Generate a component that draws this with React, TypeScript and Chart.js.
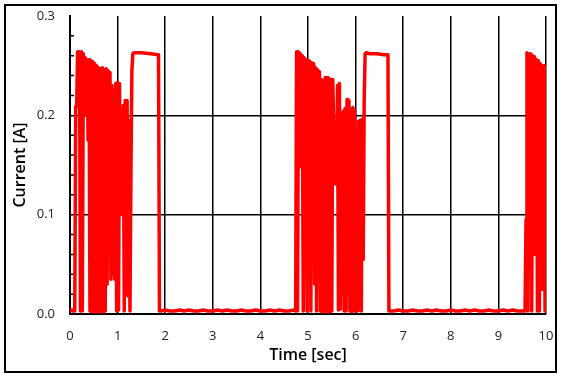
import React, { useEffect, useRef } from "react";
import { Chart, registerables } from "chart.js";

Chart.register(...registerables);

// ---- Data (time in sec, current in A) ----
const sampleStep = 0.02; // sampling interval inside bursts
const restStep = 0.1; // sampling interval in idle segments

const leadStart = 0.0;
const leadCurrent = [0.003, 0.003, 0.004, 0.003, 0.003];

const burst1Start = 0.1;
const burst1Current = [
  0.003, 0.209, 0.209, 0.264, 0.264, 0.264, 0.003, 0.264, 0.003, 0.262,
  0.22, 0.258, 0.2, 0.256, 0.175, 0.256, 0.003, 0.255, 0.002, 0.254,
  0.003, 0.252, 0.002, 0.25, 0.003, 0.248, 0.002, 0.247, 0.003, 0.248,
  0.002, 0.246, 0.003, 0.247, 0.03, 0.245, 0.08, 0.243, 0.035, 0.23,
  0.04, 0.225, 0.035, 0.232, 0.003, 0.233, 0.004, 0.232, 0.1, 0.16,
  0.11, 0.21, 0.003, 0.215, 0.02, 0.215, 0.018, 0.195, 0.003, 0.14, 0.245,
];

const plateau1Time = [1.32, 1.34, 1.5, 1.7, 1.84, 1.86, 1.88];
const plateau1Current = [0.262, 0.263, 0.263, 0.262, 0.261, 0.261, 0.003];

const rest1Start = 1.9;
const rest1Current = [
  0.003, 0.004, 0.003, 0.003, 0.004, 0.003, 0.004, 0.003, 0.003, 0.004,
  0.003, 0.003, 0.004, 0.003, 0.004, 0.003, 0.003, 0.004, 0.003, 0.003,
  0.004, 0.003, 0.003, 0.004, 0.003, 0.004, 0.003, 0.003, 0.004,
];

const burst2Start = 4.74;
const burst2Current = [
  0.003, 0.264, 0.003, 0.264, 0.148, 0.262, 0.19, 0.26, 0.003, 0.258,
  0.12, 0.256, 0.003, 0.255, 0.06, 0.254, 0.003, 0.253, 0.1, 0.252,
  0.03, 0.248, 0.003, 0.246, 0.06, 0.244, 0.003, 0.236, 0.002, 0.234,
  0.003, 0.238, 0.002, 0.238, 0.003, 0.237, 0.002, 0.236, 0.003, 0.236,
  0.19, 0.131, 0.165, 0.131, 0.23, 0.004, 0.232, 0.005, 0.2, 0.02,
  0.204, 0.003, 0.207, 0.003, 0.216, 0.02, 0.215, 0.003, 0.205, 0.002,
  0.208, 0.003, 0.205, 0.004, 0.185, 0.003, 0.194, 0.004, 0.195, 0.003,
  0.196, 0.055, 0.215, 0.262,
];

const plateau2Time = [6.22, 6.3, 6.45, 6.6, 6.68, 6.7];
const plateau2Current = [0.263, 0.262, 0.262, 0.261, 0.261, 0.003];

const rest2Start = 6.8;
const rest2Current = [
  0.003, 0.004, 0.003, 0.003, 0.004, 0.003, 0.003, 0.004, 0.003, 0.004,
  0.003, 0.003, 0.004, 0.003, 0.003, 0.004, 0.003, 0.004, 0.003, 0.003,
  0.004, 0.003, 0.003, 0.004, 0.003, 0.004, 0.003, 0.003,
];

const burst3Start = 9.56;
const burst3Current = [
  0.003, 0.095, 0.263, 0.003, 0.262, 0.165, 0.262, 0.003, 0.26, 0.06,
  0.259, 0.06, 0.256, 0.003, 0.255, 0.003, 0.252, 0.025, 0.25, 0.025,
  0.25, 0.003, 0.25,
];

const yMinorTicks = [
  0.02, 0.04, 0.06, 0.08, 0.12, 0.14, 0.16, 0.18, 0.22, 0.24, 0.26, 0.28,
];

const xTitle = "Time [sec]";
const yTitle = "Current [A]";

type Pt = { x: number; y: number };

function sampled(start: number, step: number, values: number[]): Pt[] {
  return values.map((v, i) => ({ x: +(start + i * step).toFixed(4), y: v }));
}
function paired(times: number[], values: number[]): Pt[] {
  return times.map((t, i) => ({ x: t, y: values[i] }));
}

const points: Pt[] = [
  ...sampled(leadStart, sampleStep, leadCurrent),
  ...sampled(burst1Start, sampleStep, burst1Current),
  ...paired(plateau1Time, plateau1Current),
  ...sampled(rest1Start, restStep, rest1Current),
  ...sampled(burst2Start, sampleStep, burst2Current),
  ...paired(plateau2Time, plateau2Current),
  ...sampled(rest2Start, restStep, rest2Current),
  ...sampled(burst3Start, sampleStep, burst3Current),
];

const FONT = "'Open Sans', 'Noto Sans', sans-serif";

const framePlugin = {
  id: "framePlugin",
  beforeDraw(chart: any) {
    const ctx = chart.ctx;
    ctx.save();
    ctx.fillStyle = "#ffffff";
    ctx.fillRect(0, 0, chart.width, chart.height);
    ctx.strokeStyle = "#000000";
    ctx.lineWidth = 2;
    ctx.strokeRect(5, 5, 551, 367);
    ctx.restore();
  },
  beforeDatasetsDraw(chart: any) {
    const ctx = chart.ctx;
    const ys = chart.scales.y;
    const left = chart.chartArea.left;
    ctx.save();
    ctx.strokeStyle = "#000000";
    ctx.lineWidth = 1.5;
    ctx.beginPath();
    yMinorTicks.forEach((v) => {
      const py = ys.getPixelForValue(v);
      ctx.moveTo(left, py);
      ctx.lineTo(left + 4, py);
    });
    ctx.stroke();
    ctx.restore();
  },
};

export default function App() {
  const ref = useRef<HTMLCanvasElement | null>(null);

  useEffect(() => {
    if (!ref.current) return;
    const chart = new Chart(ref.current, {
      type: "line",
      data: {
        datasets: [
          {
            data: points,
            borderColor: "#ff0000",
            borderWidth: 3.5,
            borderJoinStyle: "round",
            pointRadius: 0,
            tension: 0,
            fill: false,
          },
        ],
      },
      options: {
        animation: false,
        responsive: false,
        devicePixelRatio: 1,
        layout: { padding: { top: 16, right: 19, left: 0, bottom: 0 } },
        plugins: {
          legend: { display: false },
          tooltip: { enabled: false },
        },
        scales: {
          x: {
            type: "linear",
            min: 0,
            max: 10,
            ticks: {
              stepSize: 1,
              padding: 14,
              color: "#222",
              font: { family: FONT, size: 13 },
            },
            grid: {
              color: (c: any) =>
                c.tick && c.tick.value === 0 ? "rgba(0,0,0,0)" : "#000",
              lineWidth: 1.5,
              drawTicks: false,
            },
            border: { display: true, color: "#000", width: 2 },
            title: {
              display: true,
              text: xTitle,
              color: "#000",
              font: { family: FONT, size: 16, weight: "600" },
              padding: { top: 0, bottom: 14 },
            },
            afterFit: (s: any) => {
              s.height = 65;
              s.paddingLeft = 0;
              s.paddingRight = 0;
            },
          },
          y: {
            type: "linear",
            min: 0,
            max: 0.3,
            ticks: {
              stepSize: 0.1,
              padding: 15,
              color: "#222",
              font: { family: FONT, size: 13 },
              callback: (v: any) => Number(v).toFixed(1),
            },
            grid: {
              color: (c: any) => {
                const v = c.tick ? c.tick.value : 0;
                return Math.abs(v - 0.1) < 1e-6 || Math.abs(v - 0.2) < 1e-6
                  ? "#000"
                  : "rgba(0,0,0,0)";
              },
              lineWidth: 1.5,
              drawTicks: false,
            },
            border: { display: true, color: "#000", width: 2 },
            title: {
              display: true,
              text: yTitle,
              color: "#000",
              font: { family: FONT, size: 16, weight: "600" },
              padding: { top: 11, bottom: 0 },
            },
            afterFit: (s: any) => {
              s.width = 70;
              s.paddingTop = 0;
              s.paddingBottom = 0;
            },
          },
        },
      },
      plugins: [framePlugin],
    } as any);
    return () => chart.destroy();
  }, []);

  return (
    <div style={{ position: "absolute", left: 0, top: 0, width: 565, height: 379 }}>
      <canvas ref={ref} width={565} height={379} />
    </div>
  );
}
